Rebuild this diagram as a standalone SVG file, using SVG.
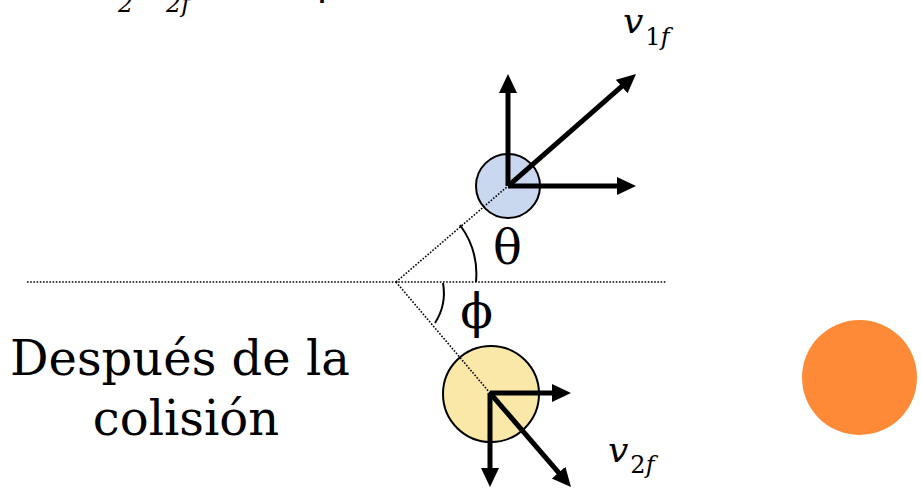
<svg xmlns="http://www.w3.org/2000/svg" width="921" height="488" viewBox="0 0 921 488">
<style>
.dot{fill:none;stroke:#000;stroke-width:1.6;stroke-dasharray:1.6 1.6}
.arc{fill:none;stroke:#000;stroke-width:2}
.vec{stroke:#000;stroke-width:5;fill:none;marker-end:url(#ah)}
.ball{stroke:#000;stroke-width:2}
.serif{font-family:"DejaVu Serif","Liberation Serif",serif;fill:#000}
.it{font-style:italic}
.up{font-style:normal}
</style>
<defs>
<marker id="ah" markerUnits="userSpaceOnUse" markerWidth="20" markerHeight="20" refX="8" refY="9" orient="auto">
<path d="M0,0 L19,9 L0,18 Z" fill="#000"/>
</marker>
</defs>
<rect width="921" height="488" fill="#fff"/>
<g id="top-fragment" class="serif">
<text x="118" y="12" font-size="24" class="it">2</text>
<text x="166" y="12" font-size="24" class="it">2f</text>
<text x="322" y="-5" font-size="40" text-anchor="middle">φ</text>
</g>
<g id="ball1">
<circle cx="508" cy="186" r="32" fill="#C9D7EF" class="ball"/>
</g>
<g id="ball2">
<circle cx="491" cy="394" r="48" fill="#FAE8A8" class="ball"/>
</g>
<g id="orange">
<circle cx="859.5" cy="377.5" r="57.5" fill="#FE8A37"/>
</g>
<g id="connectors">
<line x1="27" y1="282" x2="666" y2="282" class="dot"/>
<line x1="396" y1="282" x2="508" y2="186" class="dot"/>
<line x1="396" y1="282" x2="490" y2="393" class="dot"/>
<path d="M460,225 A83,83 0 0 1 476,282" class="arc"/>
<path d="M443,283 A56,56 0 0 1 435,323" class="arc"/>
<line x1="508" y1="186" x2="508" y2="85" class="vec"/>
<line x1="508" y1="186" x2="625" y2="186" class="vec"/>
<line x1="508" y1="186" x2="627.7" y2="81.2" class="vec"/>
<line x1="490" y1="393" x2="560" y2="393" class="vec"/>
<line x1="490" y1="393" x2="490" y2="476" class="vec"/>
<line x1="490" y1="393" x2="563.8" y2="478.7" class="vec"/>
</g>
<g id="labels" class="serif">
<text x="507.5" y="264" font-size="48" text-anchor="middle">θ</text>
<text x="476.5" y="328" font-size="48" text-anchor="middle">ϕ</text>
<text x="623" y="33" font-size="36" class="it">v<tspan font-size="24" y="45" dx="2" class="up">1</tspan><tspan font-size="24">f</tspan></text>
<text x="608" y="462" font-size="36" class="it">v<tspan font-size="24" y="473" dx="2" class="up">2</tspan><tspan font-size="24">f</tspan></text>
<text x="180" y="375" font-size="48" text-anchor="middle">Después de la</text>
<text x="186" y="435" font-size="48" text-anchor="middle">colisión</text>
</g>
</svg>
